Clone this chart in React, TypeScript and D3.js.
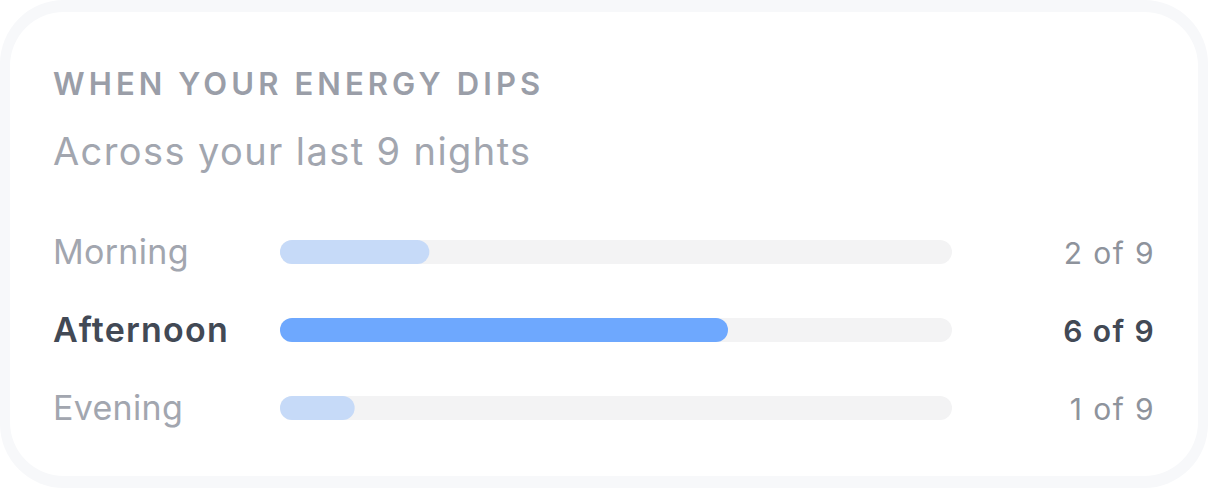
import * as d3 from "d3";
import { useEffect, useRef } from "react";

const periods = ["Morning", "Afternoon", "Evening"];
const dipNights = [2, 6, 1];
const totalNights = 9;
const highlighted = "Afternoon";

const title = "WHEN YOUR ENERGY DIPS";
const subtitle = `Across your last ${totalNights} nights`;

function EnergyDips() {
	const ref = useRef<SVGSVGElement>(null);

	function drawChart() {
		const width = 1208;
		const height = 488;
		const svg = d3.select(ref.current);
		svg.selectAll("*").remove();
		svg.attr("width", width).attr("height", height);

		const font = "Inter, 'Noto Sans', sans-serif";

		// card frame
		svg.append("rect")
			.attr("x", 0)
			.attr("y", 0)
			.attr("width", width)
			.attr("height", height)
			.attr("rx", 64)
			.attr("fill", "#f7f8fa");
		svg.append("rect")
			.attr("x", 10)
			.attr("y", 12)
			.attr("width", width - 20)
			.attr("height", height - 24)
			.attr("rx", 54)
			.attr("fill", "#ffffff");

		svg.append("text")
			.attr("x", 53)
			.attr("y", 95)
			.attr("font-family", font)
			.attr("font-size", 31)
			.attr("font-weight", 600)
			.attr("letter-spacing", 4.1)
			.attr("fill", "#9a9ea8")
			.text(title);

		svg.append("text")
			.attr("x", 53)
			.attr("y", 165)
			.attr("font-family", font)
			.attr("font-size", 38)
			.attr("letter-spacing", 1.4)
			.attr("fill", "#a2a6af")
			.text(subtitle);

		const xScale = d3.scaleLinear().domain([0, totalNights]).range([280, 952]);
		const yScale = d3
			.scaleBand()
			.domain(periods)
			.range([213, 447])
			.paddingInner(0);
		const barHeight = 24;

		const rows = svg
			.selectAll(".row")
			.data(periods)
			.enter()
			.append("g")
			.attr("class", "row")
			.attr("transform", (d) => `translate(0,${yScale(d)! + yScale.bandwidth() / 2})`);

		rows.append("rect")
			.attr("x", xScale(0))
			.attr("y", -barHeight / 2)
			.attr("width", xScale(totalNights) - xScale(0))
			.attr("height", barHeight)
			.attr("rx", barHeight / 2)
			.attr("fill", "#f3f3f4");

		rows.append("rect")
			.attr("x", xScale(0))
			.attr("y", -barHeight / 2)
			.attr("width", (d, i) => xScale(dipNights[i]) - xScale(0))
			.attr("height", barHeight)
			.attr("rx", barHeight / 2)
			.attr("fill", (d) => (d === highlighted ? "#6ea8fe" : "#c6daf8"));

		rows.append("text")
			.attr("x", 53)
			.attr("y", 12)
			.attr("font-family", font)
			.attr("font-size", 34)
			.attr("font-weight", (d) => (d === highlighted ? 600 : 400))
			.attr("letter-spacing", (d) => (d === highlighted ? 1.2 : 0.3))
			.attr("fill", (d) => (d === highlighted ? "#424955" : "#a2a6af"))
			.text((d) => d);

		rows.append("text")
			.attr("x", 1155)
			.attr("y", 12)
			.attr("text-anchor", "end")
			.attr("font-family", font)
			.attr("font-size", 30)
			.attr("font-weight", (d) => (d === highlighted ? 600 : 400))
			.attr("letter-spacing", 1.4)
			.attr("fill", (d) => (d === highlighted ? "#424955" : "#8e939c"))
			.text((d, i) => `${dipNights[i]} of ${totalNights}`);
	}

	useEffect(() => {
		document.body.style.margin = "0";
		drawChart();
	}, []);

	return <svg ref={ref} style={{ display: "block" }}></svg>;
}

export default function App() {
	return <EnergyDips />;
}
